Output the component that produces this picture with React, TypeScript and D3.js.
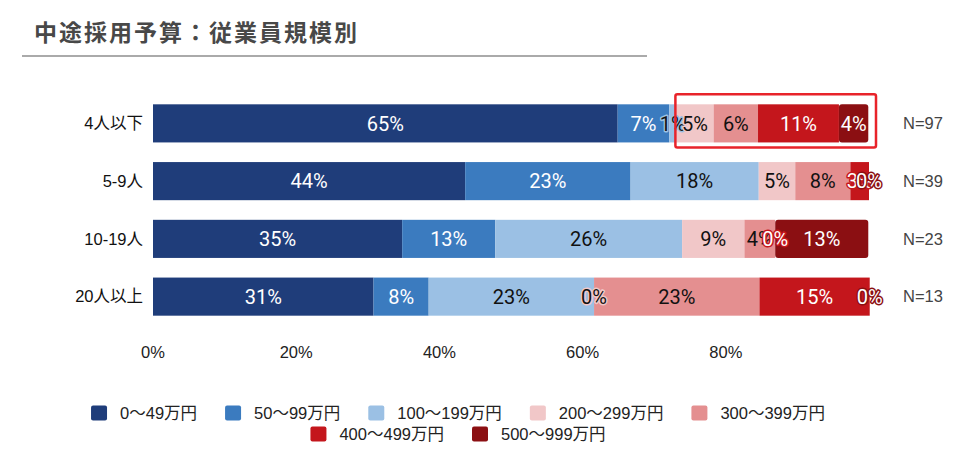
import React, { useEffect, useRef } from "react";
import * as d3 from "d3";

const width = 980;
const height = 468;

const title = "中途採用予算：従業員規模別";
const categories = ["4人以下", "5-9人", "10-19人", "20人以上"];
const sampleSizes = [97, 39, 23, 13];
const seriesNames = ["0～49万円", "50～99万円", "100～199万円", "200～299万円", "300～399万円", "400～499万円", "500～999万円"];
const colors = ["#1f3d7a", "#3b7bbf", "#9bc0e4", "#f1c7c8", "#e48f90", "#c4161c", "#8b0f12"];
const textColors = ["#fff", "#fff", "#111", "#111", "#111", "#fff", "#fff"];

// percent of each row, per budget band
const s0 = [64.9, 43.6, 34.8, 30.8];
const s1 = [7.2, 23.1, 13.0, 7.7];
const s2 = [1.0, 17.9, 26.1, 23.1];
const s3 = [5.2, 5.1, 8.7, 0];
const s4 = [6.2, 7.7, 4.3, 23.1];
const s5 = [11.3, 2.6, 0, 15.4];
const s6 = [4.1, 0, 13.0, 0];
const series = [s0, s1, s2, s3, s4, s5, s6];

const ticks = [0, 20, 40, 60, 80];

const font = "Roboto, 'Noto Sans CJK JP', sans-serif";
const sans = "'Liberation Sans', 'Noto Sans CJK JP', sans-serif";

const App = () => {
    const ref = useRef<SVGSVGElement>(null);

    useEffect(() => {
        const svg = d3.select(ref.current);
        svg.selectAll("*").remove();

        const x = d3.scaleLinear().domain([0, 100]).range([153, 869]);
        const y = d3.scaleBand<string>()
            .domain(categories)
            .range([94.5, 325.5])
            .paddingInner(0.34)
            .paddingOuter(0.17);

        svg.append("text")
            .attr("x", 34)
            .attr("y", 41)
            .attr("font-size", 23)
            .attr("font-weight", "bold")
            .attr("letter-spacing", 2)
            .attr("fill", "#484848")
            .attr("font-family", "'Noto Sans CJK JP', sans-serif")
            .text(title);

        svg.append("line")
            .attr("x1", 22).attr("x2", 647)
            .attr("y1", 56).attr("y2", 56)
            .attr("stroke", "#aaa")
            .attr("stroke-width", 2);

        // stacked segments
        const rows = categories.map((c, i) => {
            let acc = 0;
            return series.map((s, k) => {
                const seg = { cat: c, k, x0: acc, x1: acc + s[i], v: s[i] };
                acc += s[i];
                return seg;
            });
        });

        const segs = rows.flat();

        svg.append("g")
            .selectAll("rect")
            .data(segs.filter(d => d.v > 0))
            .join("rect")
            .attr("x", d => x(d.x0))
            .attr("y", d => y(d.cat)!)
            .attr("width", d => x(d.x1) - x(d.x0))
            .attr("height", y.bandwidth())
            .attr("rx", d => d.k === 6 ? 3 : 0)
            .attr("fill", d => colors[d.k]);

        svg.append("g")
            .attr("font-family", font)
            .attr("font-size", 20)
            .attr("text-anchor", "middle")
            .attr("paint-order", "stroke")
            .attr("stroke-width", 3)
            .attr("stroke-linejoin", "round")
            .selectAll("text")
            .data(segs)
            .join("text")
            .attr("x", d => x((d.x0 + d.x1) / 2))
            .attr("y", d => y(d.cat)! + y.bandwidth() / 2)
            .attr("dy", "0.36em")
            .attr("fill", d => textColors[d.k])
            .attr("stroke", d => colors[d.k])
            .text(d => `${Math.round(d.v)}%`);

        // category labels
        svg.append("g")
            .attr("font-family", sans)
            .attr("font-size", 16.5)
            .attr("text-anchor", "end")
            .attr("fill", "#111")
            .selectAll("text")
            .data(categories)
            .join("text")
            .attr("x", 143)
            .attr("y", d => y(d)! + y.bandwidth() / 2)
            .attr("dy", "0.35em")
            .text(d => d);

        // N labels
        svg.append("g")
            .attr("font-family", sans)
            .attr("font-size", 16.5)
            .attr("fill", "#444")
            .selectAll("text")
            .data(categories)
            .join("text")
            .attr("x", 903)
            .attr("y", d => y(d)! + y.bandwidth() / 2)
            .attr("dy", "0.35em")
            .text((d, i) => `N=${sampleSizes[i]}`);

        // x ticks
        svg.append("g")
            .attr("font-family", sans)
            .attr("font-size", 16.5)
            .attr("text-anchor", "middle")
            .attr("fill", "#222")
            .selectAll("text")
            .data(ticks)
            .join("text")
            .attr("x", d => x(d))
            .attr("y", 352)
            .attr("dy", "0.35em")
            .text(d => `${d}%`);

        // highlight box around the upper budget bands of the first row
        const first = rows[0];
        svg.append("rect")
            .attr("x", x(first[3].x0) - 1)
            .attr("y", y(categories[0])! - 10)
            .attr("width", x(100) + 7 - x(first[3].x0) + 1)
            .attr("height", y.bandwidth() + 15)
            .attr("rx", 2)
            .attr("fill", "none")
            .attr("stroke", "#e8232a")
            .attr("stroke-width", 2.5);

        // legend, two centred rows
        const legendRows = [seriesNames.slice(0, 5), seriesNames.slice(5)];
        const legendY = [413, 434];
        const cx = 458;
        legendRows.forEach((names, r) => {
            const g = svg.append("g")
                .attr("font-family", sans)
                .attr("font-size", 16.5)
                .attr("fill", "#222");
            let offset = 0;
            names.forEach((name, j) => {
                const k = seriesNames.indexOf(name);
                const item = g.append("g").attr("transform", `translate(${offset},0)`);
                item.append("rect")
                    .attr("x", 0)
                    .attr("y", legendY[r] - 7.5)
                    .attr("width", 16)
                    .attr("height", 15)
                    .attr("rx", 2)
                    .attr("fill", colors[k]);
                const t = item.append("text")
                    .attr("x", 29)
                    .attr("y", legendY[r])
                    .attr("dy", "0.35em")
                    .text(name);
                const w = (t.node() as SVGTextElement).getComputedTextLength();
                offset += 29 + w + (j < names.length - 1 ? 28 : 0);
            });
            g.attr("transform", `translate(${cx - offset / 2},0)`);
        });
    }, []);

    return (
        <svg ref={ref} width={width} height={height} style={{ display: "block", position: "absolute", left: 0, top: 0, background: "#fff" }} />
    );
};

export default App;
